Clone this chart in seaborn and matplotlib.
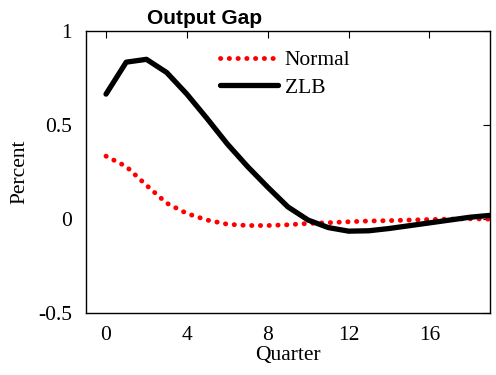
import numpy as np
import pandas as pd
import matplotlib
matplotlib.use("Agg")
import matplotlib.pyplot as plt
import seaborn as sns

quarters = list(range(20))
normal = [0.335, 0.28, 0.18, 0.085, 0.03, -0.005, -0.027, -0.034, -0.034, -0.03,
          -0.023, -0.019, -0.014, -0.01, -0.008, -0.005, -0.002, 0.0, 0.002, 0.0]
zlb = [0.665, 0.835, 0.85, 0.78, 0.665, 0.535, 0.40, 0.28, 0.17, 0.065,
       -0.005, -0.045, -0.064, -0.062, -0.05, -0.035, -0.02, -0.005, 0.01, 0.02]

df = pd.DataFrame({"Quarter": quarters, "Normal": normal, "ZLB": zlb})

sns.set_style("white", {"text.color": "black", "axes.labelcolor": "black",
                        "xtick.color": "black", "ytick.color": "black"})
plt.rcParams["font.family"] = ["Liberation Serif", "DejaVu Serif"]

fig = plt.figure(figsize=(4.96, 3.75), dpi=100)
ax = fig.add_axes([0.173, 0.165, 0.815, 0.752])

sns.lineplot(data=df, x="Quarter", y="Normal", ax=ax, color="red", lw=3.5,
             label="Normal", solid_capstyle="round")
ax.lines[-1].set_linestyle((0, (0.05, 1.75)))
ax.lines[-1].set_dash_capstyle("round")
sns.lineplot(data=df, x="Quarter", y="ZLB", ax=ax, color="black", lw=3.8,
             label="ZLB", solid_capstyle="round")

ax.set_xlim(-1, 19)
ax.set_ylim(-0.5, 1)
ax.set_xticks([0, 4, 8, 12, 16])
ax.set_yticks([-0.5, 0, 0.5, 1])
ax.set_yticklabels(["-0.5", "0", "0.5", "1"])
ax.tick_params(direction="in", length=5, width=0.8, top=True, right=True,
               labelsize=15.5, colors="black", pad=10)
ax.tick_params(axis="x", pad=9)
for s in ax.spines.values():
    s.set_color("black")
    s.set_linewidth(1.0)
ax.set_xlabel("Quarter", fontsize=15.5, labelpad=1, color="black")
ax.set_ylabel("Percent", fontsize=15.5, labelpad=6, color="black")
ax.set_title("Output Gap", fontsize=15, fontweight="bold", color="black",
             family=["Liberation Sans", "DejaVu Sans"], x=0.295, pad=5)

leg = ax.legend(loc="upper left", bbox_to_anchor=(0.3, 0.978), frameon=False,
                fontsize=15.5, handlelength=2.7, handletextpad=0.3,
                labelspacing=0.35, borderaxespad=0.2)
for t in leg.get_texts():
    t.set_color("black")

fig.savefig("out.png", dpi=100)
